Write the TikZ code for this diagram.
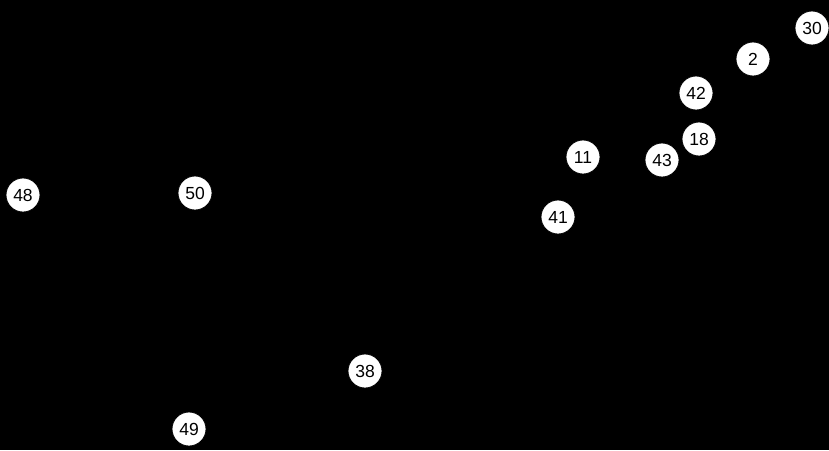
\documentclass[tikz,border=0pt]{standalone}
\usepackage{fontspec}
\setmainfont{Liberation Sans}
\begin{document}
\begin{tikzpicture}[x=1pt,y=-1pt,
  vert/.style={circle,fill=white,draw=black,line width=0.8pt,minimum size=34pt,inner sep=0pt,font=\fontsize{17.5}{17.5}\selectfont}]
\fill[black] (0,0) rectangle (829,450);
\useasboundingbox (0,0) rectangle (829,450);
\node[vert] (n30) at (812,28) {30};
\node[vert] (n2) at (753,59) {2};
\node[vert] (n42) at (696,93) {42};
\node[vert] (n18) at (699,139) {18};
\node[vert] (n11) at (583,157) {11};
\node[vert] (n43) at (662,160) {43};
\node[vert] (n41) at (558,217) {41};
\node[vert] (n48) at (23,195) {48};
\node[vert] (n50) at (195,193) {50};
\node[vert] (n38) at (365,371) {38};
\node[vert] (n49) at (189,429) {49};
\end{tikzpicture}
\end{document}
